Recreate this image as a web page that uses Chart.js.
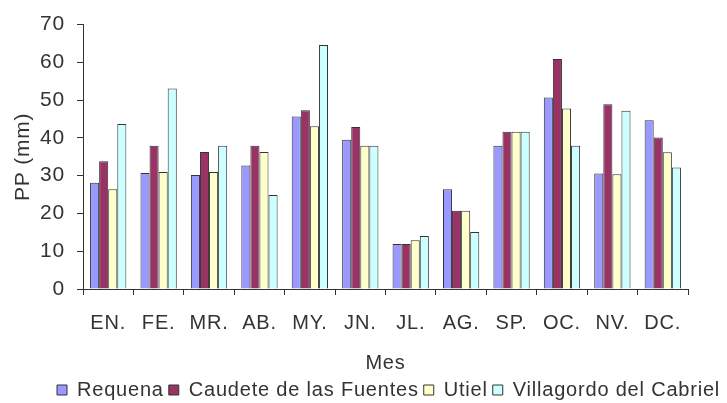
<!DOCTYPE html>
<html>
<head>
<meta charset="utf-8">
<script src="https://cdn.jsdelivr.net/npm/chart.js@4"></script>
<style>
  body { margin: 0; background: #fff; }
  #wrap { width: 727px; height: 403px; }
</style>
</head>
<body>
<div id="wrap"><canvas id="ppChart" width="727" height="403"></canvas></div>
<script>
// Months (x axis labels)
const meses = ['EN.', 'FE.', 'MR.', 'AB.', 'MY.', 'JN.', 'JL.', 'AG.', 'SP.', 'OC.', 'NV.', 'DC.'];

// Monthly precipitation, mm, one array per station
const requena = [28.1, 30.7, 30.2, 32.7, 45.7, 39.5, 11.9, 26.4, 37.9, 50.7, 30.6, 44.7];
const caudete = [33.8, 37.9, 36.3, 37.9, 47.3, 42.9, 11.9, 20.7, 41.6, 60.9, 48.9, 40.1];
const utiel = [26.4, 31.0, 31.0, 36.3, 43.1, 37.9, 12.9, 20.7, 41.6, 47.8, 30.4, 36.2];
const villagordo = [43.7, 53.1, 37.9, 24.9, 64.6, 37.9, 14.0, 15.1, 41.6, 37.9, 47.2, 32.2];

const textColor = '#333333';
const font = '"Liberation Sans", Arial, sans-serif';

function serie(label, data, color) {
    return {
        label: label,
        data: data,
        backgroundColor: color,
        borderColor: '#333333',
        borderWidth: 1,
        categoryPercentage: 0.72,
        barPercentage: 1
    };
}

// the old Excel text is a little spaced out, and the legend starts further right
const tweaks = {
    id: 'tweaks',
    beforeLayout(chart) {
        chart.ctx.letterSpacing = '0.8px';
    },
    afterLayout(chart) {
        chart.legend.left = 52;
        chart.legend.right = 760;
    },
    beforeDraw(chart) {
        chart.ctx.letterSpacing = '0.8px';
    }
};

const ctx = document.getElementById('ppChart').getContext('2d');

const chart = new Chart(ctx, {
    type: 'bar',
    data: {
        labels: meses,
        datasets: [
            serie('Requena', requena, '#9999FF'),
            serie('Caudete de las Fuentes', caudete, '#993366'),
            serie('Utiel', utiel, '#FFFFCC'),
            serie('Villagordo del Cabriel', villagordo, '#CCFFFF')
        ]
    },
    options: {
        responsive: false,
        animation: false,
        layout: {
            padding: { top: 18, right: 39, left: 0, bottom: -7 }
        },
        scales: {
            y: {
                min: 0,
                max: 70,
                ticks: {
                    stepSize: 10,
                    color: textColor,
                    padding: 12,
                    font: { family: font, size: 21 }
                },
                grid: {
                    drawOnChartArea: false,
                    tickLength: 6,
                    color: '#333333'
                },
                border: { color: '#333333' },
                title: {
                    display: true,
                    text: 'PP (mm)',
                    color: textColor,
                    padding: { top: 11, bottom: 0 },
                    font: { family: font, size: 21 }
                },
                afterFit: function (scale) {
                    scale.width = 83;
                }
            },
            x: {
                ticks: {
                    color: textColor,
                    padding: 16,
                    font: { family: font, size: 20 }
                },
                grid: {
                    drawOnChartArea: false,
                    tickLength: 6,
                    color: '#333333'
                },
                border: { color: '#333333' },
                title: {
                    display: true,
                    text: 'Mes',
                    color: textColor,
                    padding: { top: 4, bottom: 0 },
                    font: { family: font, size: 20 }
                },
                afterFit: function (scale) {
                    scale.height = 86;
                }
            }
        },
        plugins: {
            legend: {
                position: 'bottom',
                align: 'start',
                labels: {
                    color: textColor,
                    boxWidth: 10,
                    boxHeight: 10,
                    padding: 5,
                    font: { family: font, size: 20 }
                }
            },
            tooltip: { enabled: false }
        }
    },
    plugins: [tweaks]
});
</script>
</body>
</html>
